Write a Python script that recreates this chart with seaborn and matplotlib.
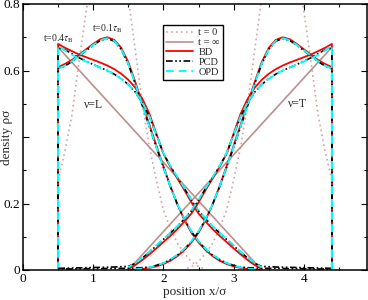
import matplotlib
matplotlib.use("Agg")
import matplotlib.pyplot as plt
import seaborn as sns
from matplotlib.lines import Line2D
from matplotlib.ticker import MultipleLocator

# positions for the particles starting at the left wall (nu = L) and right wall (nu = T)
x_left = [0.5, 0.5, 0.6, 0.7, 0.8, 0.9, 1.0, 1.1, 1.2, 1.3, 1.4, 1.5, 1.6, 1.7, 1.8, 1.9,
          2.0, 2.1, 2.2, 2.3, 2.4, 2.5, 2.6, 2.7, 2.8, 2.9, 3.0, 3.1, 3.2, 3.3, 3.4]
x_right = [4.4, 4.4, 4.3, 4.2, 4.1, 4.0, 3.9, 3.8, 3.7, 3.6, 3.5, 3.4, 3.3, 3.2, 3.1, 3.0,
           2.9, 2.8, 2.7, 2.6, 2.5, 2.4, 2.3, 2.2, 2.1, 2.0, 1.9, 1.8, 1.7, 1.6, 1.5]
x_left_pcd = x_left + [3.6, 3.8, 4.0, 4.2, 4.4]
x_right_pcd = x_right + [1.3, 1.1, 0.9, 0.7, 0.5]

# t = 0.1 tau_B
bd_early = [0, 0.61, 0.62, 0.632, 0.648, 0.664, 0.68, 0.694, 0.700, 0.692, 0.668, 0.625, 0.565,
            0.500, 0.437, 0.374, 0.312, 0.252, 0.197, 0.150, 0.112, 0.083, 0.060, 0.042, 0.028,
            0.018, 0.011, 0.006, 0.003, 0.001, 0.0]
opd_early = [0, 0.605, 0.615, 0.628, 0.645, 0.661, 0.677, 0.691, 0.697, 0.689, 0.664, 0.620, 0.560,
             0.495, 0.432, 0.370, 0.309, 0.251, 0.198, 0.153, 0.116, 0.087, 0.064, 0.046, 0.032,
             0.021, 0.013, 0.008, 0.004, 0.002, 0.0]
pcd_early = [0, 0.605, 0.614, 0.627, 0.644, 0.660, 0.676, 0.690, 0.696, 0.688, 0.663, 0.619, 0.559,
             0.494, 0.431, 0.369, 0.308, 0.250, 0.197, 0.152, 0.115, 0.086, 0.063, 0.045, 0.031,
             0.021, 0.014, 0.009, 0.007, 0.006, 0.005, 0.005, 0.004, 0.004, 0.003, 0.003]

# t = 0.4 tau_B
bd_late = [0, 0.68, 0.668, 0.658, 0.648, 0.64, 0.632, 0.624, 0.615, 0.604, 0.59, 0.572, 0.548,
           0.515, 0.47, 0.41, 0.35, 0.31, 0.275, 0.24, 0.203, 0.17, 0.146, 0.123, 0.103,
           0.084, 0.065, 0.047, 0.03, 0.015, 0.003]
opd_late = [0, 0.675, 0.66, 0.647, 0.636, 0.627, 0.618, 0.609, 0.6, 0.589, 0.575, 0.558, 0.535,
            0.504, 0.462, 0.407, 0.352, 0.313, 0.279, 0.246, 0.211, 0.179, 0.155, 0.132, 0.112,
            0.093, 0.074, 0.055, 0.037, 0.021, 0.008]
pcd_late = [0, 0.668, 0.662, 0.65, 0.638, 0.628, 0.618, 0.609, 0.6, 0.589, 0.575, 0.558, 0.535,
            0.503, 0.461, 0.406, 0.351, 0.312, 0.278, 0.245, 0.21, 0.178, 0.154, 0.131, 0.111,
            0.092, 0.073, 0.054, 0.036, 0.02, 0.011, 0.009, 0.008, 0.007, 0.006, 0.005]

# t = 0 (initial profile) and t = infinity (stationary)
x0_left = [0.5, 0.5, 0.6, 0.7, 0.8, 0.9, 1.0, 1.1, 1.2, 1.3, 1.4, 1.5, 1.6, 1.7, 1.8, 1.9,
           2.0, 2.1, 2.2, 2.3, 2.4, 2.5, 2.6]
x0_right = [4.4, 4.4, 4.3, 4.2, 4.1, 4.0, 3.9, 3.8, 3.7, 3.6, 3.5, 3.4, 3.3, 3.2, 3.1, 3.0,
            2.9, 2.8, 2.7, 2.6, 2.5, 2.4, 2.3]
rho_t0 = [0, 0.27, 0.36, 0.47, 0.63, 0.78, 0.90, 0.98, 1.02, 1.0, 0.93, 0.82, 0.66, 0.50, 0.37,
          0.27, 0.18, 0.125, 0.08, 0.05, 0.025, 0.01, 0.003]
xinf_left = [0.5, 0.5, 3.4]
xinf_right = [4.4, 4.4, 1.5]
rho_inf = [0, 0.67, 0]

labels = ["t = 0", "t = \u221e", "BD", "PCD", "OPD"]

c_t0 = "#d6a3a3"
c_inf = "#bc8f8f"
styles = {
    "t0": dict(color=c_t0, lw=1.2, linestyle=(0, (1, 2))),
    "inf": dict(color=c_inf, lw=1.2, linestyle="-"),
    "BD": dict(color="red", lw=1.3, linestyle="-"),
    "PCD": dict(color="black", lw=1.2, linestyle=(0, (4, 1.5, 1, 1.5, 1, 1.5))),
    "OPD": dict(color="cyan", lw=1.4, linestyle=(0, (4, 2.5))),
}

sns.set_style("ticks")
plt.rcParams["font.family"] = ["Liberation Serif", "DejaVu Serif"]
plt.rcParams["mathtext.fontset"] = "stix"

fig = plt.figure(figsize=(3.68, 3.0), dpi=100)
ax = fig.add_axes([23 / 368, 30 / 300, 344 / 368, 266 / 300])


def draw(x, y, key):
    sns.lineplot(x=x, y=y, ax=ax, estimator=None, sort=False, legend=False, **styles[key])


for x0, xi in [(x0_left, xinf_left), (x0_right, xinf_right)]:
    draw(x0, rho_t0, "t0")
    draw(xi, rho_inf, "inf")
for xs, xp in [(x_left, x_left_pcd), (x_right, x_right_pcd)]:
    draw(xs, bd_early, "BD")
    draw(xs, bd_late, "BD")
    draw(xp, pcd_early, "PCD")
    draw(xp, pcd_late, "PCD")
    draw(xs, opd_early, "OPD")
    draw(xs, opd_late, "OPD")

ax.set_xlim(0, 4.9)
ax.set_ylim(0, 0.8)
ax.set_xticks([0, 1, 2, 3, 4])
ax.set_xticklabels(["0", "1", "2", "3", "4"])
ax.set_yticks([0, 0.2, 0.4, 0.6, 0.8])
ax.set_yticklabels(["0", "0.2", "", "0.6", "0.8"])
ax.xaxis.set_minor_locator(MultipleLocator(0.5))
ax.yaxis.set_minor_locator(MultipleLocator(0.1))
ax.tick_params(which="both", direction="in", top=True, right=True, width=0.8,
               labelsize=9.5, pad=2, colors="black")
ax.tick_params(which="major", length=4)
ax.tick_params(which="minor", length=2.2)
for s in ax.spines.values():
    s.set_linewidth(1.1)
    s.set_color("black")

ax.set_xlabel("position x/\u03c3", fontsize=9.5, labelpad=1)
ax.set_ylabel("density \u03c1\u03c3", fontsize=9.5)
ax.yaxis.set_label_coords(-0.028, 0.5)

ax.text(0.5, 0.695, r"t=0.4$\tau_\mathrm{B}$", fontsize=7, ha="center", va="center")
ax.text(1.2, 0.725, r"t=0.1$\tau_\mathrm{B}$", fontsize=7, ha="center", va="center")
ax.text(1.0, 0.495, "\u03bd=L", fontsize=8.5, ha="center", va="center")
ax.text(3.91, 0.50, "\u03bd=T", fontsize=8.5, ha="center", va="center")

handles = [Line2D([], [], **styles[k]) for k in ["t0", "inf", "BD", "PCD", "OPD"]]
leg = ax.legend(handles, labels, loc="upper left", bbox_to_anchor=(0.407, 0.921),
                frameon=True, fancybox=False, edgecolor="black", framealpha=1,
                fontsize=7.5, handlelength=2.6, labelspacing=0.05, borderpad=0.3,
                handletextpad=0.5, borderaxespad=0)
leg.get_frame().set_linewidth(1.0)

fig.savefig("out.png", dpi=100)
